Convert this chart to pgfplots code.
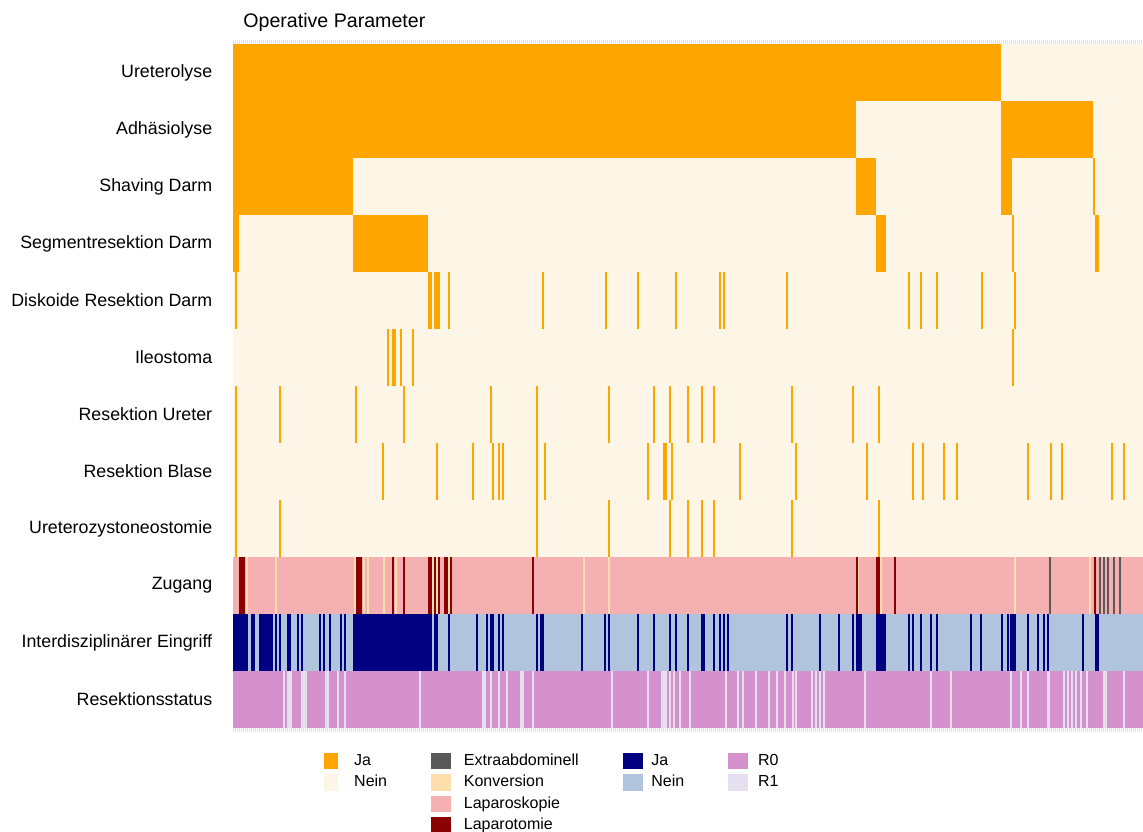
\documentclass[border=0pt]{standalone}
\usepackage{fontspec}
\setmainfont{Liberation Sans}
\usepackage{pgfplots}
\pgfplotsset{compat=1.18}
\usepackage{pgfplotstable}

\definecolor{ja}{HTML}{FFA500}
\definecolor{nein}{HTML}{FDF5E6}
\definecolor{extra}{HTML}{595959}
\definecolor{konv}{HTML}{FFDEAD}
\definecolor{lapsk}{HTML}{F5B1B1}
\definecolor{lapto}{HTML}{8B0000}
\definecolor{ija}{HTML}{000080}
\definecolor{inein}{HTML}{B0C4DE}
\definecolor{rzero}{HTML}{D591CB}
\definecolor{rone}{HTML}{E6DFF0}

% intervals (start end) along the patient axis, one table per row and category
\pgfplotstableread[row sep=\\]{a b\\ 0 910\\}\full
\pgfplotstableread[row sep=\\]{a b\\ 0 768\\}\rA
\pgfplotstableread[row sep=\\]{a b\\ 0 623\\ 768 860\\}\rB
\pgfplotstableread[row sep=\\]{a b\\ 0 120\\ 623 643\\ 768 779\\ 860 862\\}\rC
\pgfplotstableread[row sep=\\]{a b\\ 0 6\\ 120 195\\ 643 653\\ 779 781\\ 862 866\\}\rD
\pgfplotstableread[row sep=\\]{a b\\ 2 4\\ 195 199\\ 201 207\\ 215 217\\ 309 311\\ 372 374\\ 404 406\\ 442 444\\ 486 488\\ 490 492\\ 553 555\\ 675 677\\ 687 689\\ 703 705\\ 748 750\\ 781 783\\}\rE
\pgfplotstableread[row sep=\\]{a b\\ 154 156\\ 159 163\\ 167 169\\ 179 181\\ 779 781\\}\rF
\pgfplotstableread[row sep=\\]{a b\\ 2 4\\ 46 48\\ 122 124\\ 170 172\\ 257 259\\ 303 305\\ 375 377\\ 420 422\\ 436 438\\ 454 456\\ 468 470\\ 480 482\\ 558 560\\ 619 621\\ 645 647\\}\rG
\pgfplotstableread[row sep=\\]{a b\\ 2 4\\ 149 151\\ 203 205\\ 239 241\\ 259 261\\ 265 267\\ 269 271\\ 303 305\\ 311 313\\ 414 416\\ 430 434\\ 438 440\\ 506 508\\ 562 564\\ 633 635\\ 679 681\\ 689 691\\ 710 712\\ 723 725\\ 794 796\\ 817 819\\ 828 830\\ 878 880\\ 890 892\\}\rH
\pgfplotstableread[row sep=\\]{a b\\ 2 4\\ 46 48\\ 303 305\\ 375 377\\ 436 438\\ 454 456\\ 468 470\\ 480 482\\ 558 560\\ 645 647\\}\rI
% Zugang
\pgfplotstableread[row sep=\\]{a b\\ 6 12\\ 123 129\\ 159 161\\ 170 172\\ 195 199\\ 201 203\\ 205 207\\ 211 215\\ 217 219\\ 299 301\\ 622.5 624.5\\ 643 647\\ 661 663\\ 861 863\\}\rJlapto
\pgfplotstableread[row sep=\\]{a b\\ 13 15\\ 42 44\\ 121 123\\ 130 132\\ 134 136\\ 150 152\\ 162 164\\ 199 201\\ 203 205\\ 215 217\\ 350 352\\ 375 377\\ 624.5 626\\ 647 648.5\\ 781 783\\ 856 858\\}\rJkonv
\pgfplotstableread[row sep=\\]{a b\\ 816 818\\ 866 868\\ 870 872\\ 874 876\\ 880 882\\ 886 888\\}\rJextra
% Interdisziplinaer: Ja
\pgfplotstableread[row sep=\\]{a b\\ 0 15\\ 18 22\\ 26 40\\ 42 44\\ 46 48\\ 54 58\\ 64 66\\ 68 70\\ 86 88\\ 90 92\\ 96 98\\ 107 109\\ 111 113\\ 120 199\\ 201 205\\ 215 217\\ 243 245\\ 253 255\\ 257 261\\ 265 267\\ 269 271\\ 303 305\\ 307 311\\ 348 350\\ 371 373\\ 375 377\\ 404 406\\ 420 422\\ 436 438\\ 442 444\\ 454 456\\ 468 472\\ 480 482\\ 486 488\\ 490 492\\ 494 496\\ 553 555\\ 558 560\\ 586 588\\ 605 607\\ 619 621\\ 623 629\\ 643 653\\ 675 677\\ 679 681\\ 687 689\\ 697 699\\ 703 705\\ 737 739\\ 747 749\\ 768 770\\ 774 776\\ 777 783\\ 794 796\\ 804 806\\ 810 812\\ 814 816\\ 849 851\\ 862 866\\}\rK
% Resektionsstatus: R1
\pgfplotstableread[row sep=\\]{a b\\ 50 52\\ 54 59\\ 68 74\\ 92 96\\ 104 106\\ 111 113\\ 186 188\\ 249 253\\ 257 259\\ 265 267\\ 273 275\\ 287 291\\ 299 301\\ 378 380\\ 414 416\\ 428 434\\ 436 438\\ 440 442\\ 446 448\\ 456 458\\ 492 494\\ 504 506\\ 509 511\\ 522 524\\ 535 537\\ 543 545\\ 551 553\\ 559 561\\ 562 564\\ 578 580\\ 582 584\\ 586 588\\ 590 592\\ 631 633\\ 697 699\\ 717 719\\ 777 779\\ 787 789\\ 794 796\\ 814 817\\ 830 832\\ 834 836\\ 838 840\\ 842 844\\ 847 849\\ 853 855\\ 870 874\\ 890 892\\}\rL

\pgfplotsset{
  seg/.style={forget plot, mark=none, draw=#1, line width=28.5pt, line cap=butt,
    quiver={u=\thisrow{b}-\thisrow{a}, v=0}},
  bg/.style={seg=#1, line width=28.8pt},
}

\begin{document}
\begin{tikzpicture}
\useasboundingbox (-116.5pt,-51.5pt) rectangle (455pt,364pt);
\begin{axis}[
  at={(0pt,0pt)}, anchor=south west,
  scale only axis, width=455pt, height=342pt,
  xmin=0, xmax=910, ymin=0.5, ymax=12.5, y dir=reverse,
  axis line style={draw=none},
  xtick={0,2,...,910}, xticklabels={},
  tick align=outside, major tick length=2pt,
  xtick style={gray!22, line width=0.4pt},
  ytick={1,...,12}, ytick style={draw=none},
  yticklabels={Ureterolyse, Adhäsiolyse, Shaving Darm, Segmentresektion Darm, Diskoide Resektion Darm, Ileostoma, Resektion Ureter, Resektion Blase, Ureterozystoneostomie, Zugang, Interdisziplinärer Eingriff, Resektionsstatus},
  yticklabel style={font=\fontsize{8.9}{10}\selectfont, anchor=east, inner sep=0pt, xshift=-8.2pt},
  title={Operative Parameter},
  title style={at={(0,1)}, anchor=base west, xshift=5pt, yshift=2.5pt, inner sep=0pt, font=\fontsize{9.8}{12}\selectfont},
  legend columns=4,
  legend cell align=left,
  legend style={at={(0,0)}, anchor=north west, xshift=45.5pt, yshift=-12.3pt, draw=none, fill=none, inner sep=0pt,
    font=\fontsize{8}{9}\selectfont, row sep=2.65pt,
    nodes={inner sep=0pt, text height=6pt, text depth=1.5pt},
    /tikz/every even column/.append style={column sep=22pt}},
]
% backgrounds
\addplot[bg=nein] table[x=a, y expr=1] {\full};
\addplot[bg=nein] table[x=a, y expr=2] {\full};
\addplot[bg=nein] table[x=a, y expr=3] {\full};
\addplot[bg=nein] table[x=a, y expr=4] {\full};
\addplot[bg=nein] table[x=a, y expr=5] {\full};
\addplot[bg=nein] table[x=a, y expr=6] {\full};
\addplot[bg=nein] table[x=a, y expr=7] {\full};
\addplot[bg=nein] table[x=a, y expr=8] {\full};
\addplot[bg=nein] table[x=a, y expr=9] {\full};
\addplot[bg=lapsk] table[x=a, y expr=10] {\full};
\addplot[bg=inein] table[x=a, y expr=11] {\full};
\addplot[bg=rzero] table[x=a, y expr=12] {\full};
% Ja intervals
\addplot[seg=ja] table[x=a, y expr=1] {\rA};
\addplot[seg=ja] table[x=a, y expr=2] {\rB};
\addplot[seg=ja] table[x=a, y expr=3] {\rC};
\addplot[seg=ja] table[x=a, y expr=4] {\rD};
\addplot[seg=ja] table[x=a, y expr=5] {\rE};
\addplot[seg=ja] table[x=a, y expr=6] {\rF};
\addplot[seg=ja] table[x=a, y expr=7] {\rG};
\addplot[seg=ja] table[x=a, y expr=8] {\rH};
\addplot[seg=ja] table[x=a, y expr=9] {\rI};
\addplot[seg=lapto] table[x=a, y expr=10] {\rJlapto};
\addplot[seg=konv] table[x=a, y expr=10] {\rJkonv};
\addplot[seg=extra] table[x=a, y expr=10] {\rJextra};
\addplot[seg=ija] table[x=a, y expr=11] {\rK};
\addplot[seg=rone] table[x=a, y expr=12] {\rL};
% legend
\addlegendimage{legend image code/.code={\fill[ja] (0pt,-3.8pt) rectangle (6.5pt,3.8pt); \path (14.5pt,0pt);}}
\addlegendentry{Ja}
\addlegendimage{legend image code/.code={\fill[extra] (0pt,-3.8pt) rectangle (9.5pt,3.8pt); \path (16pt,0pt);}}
\addlegendentry{Extraabdominell}
\addlegendimage{legend image code/.code={\fill[ija] (0pt,-3.8pt) rectangle (9.5pt,3.8pt); \path (14pt,0pt);}}
\addlegendentry{Ja}
\addlegendimage{legend image code/.code={\fill[rzero] (0pt,-3.8pt) rectangle (9.5pt,3.8pt); \path (14.5pt,0pt);}}
\addlegendentry{R0}
\addlegendimage{legend image code/.code={\fill[nein] (0pt,-3.8pt) rectangle (6.5pt,3.8pt); \path (14.5pt,0pt);}}
\addlegendentry{Nein}
\addlegendimage{legend image code/.code={\fill[konv] (0pt,-3.8pt) rectangle (9.5pt,3.8pt); \path (16pt,0pt);}}
\addlegendentry{Konversion}
\addlegendimage{legend image code/.code={\fill[inein] (0pt,-3.8pt) rectangle (9.5pt,3.8pt); \path (14pt,0pt);}}
\addlegendentry{Nein}
\addlegendimage{legend image code/.code={\fill[rone] (0pt,-3.8pt) rectangle (9.5pt,3.8pt); \path (14.5pt,0pt);}}
\addlegendentry{R1}
\addlegendimage{empty legend}
\addlegendentry{}
\addlegendimage{legend image code/.code={\fill[lapsk] (0pt,-3.8pt) rectangle (9.5pt,3.8pt); \path (16pt,0pt);}}
\addlegendentry{Laparoskopie}
\addlegendimage{empty legend}
\addlegendentry{}
\addlegendimage{empty legend}
\addlegendentry{}
\addlegendimage{empty legend}
\addlegendentry{}
\addlegendimage{legend image code/.code={\fill[lapto] (0pt,-3.8pt) rectangle (9.5pt,3.8pt); \path (16pt,0pt);}}
\addlegendentry{Laparotomie}
\end{axis}
\end{tikzpicture}
\end{document}
